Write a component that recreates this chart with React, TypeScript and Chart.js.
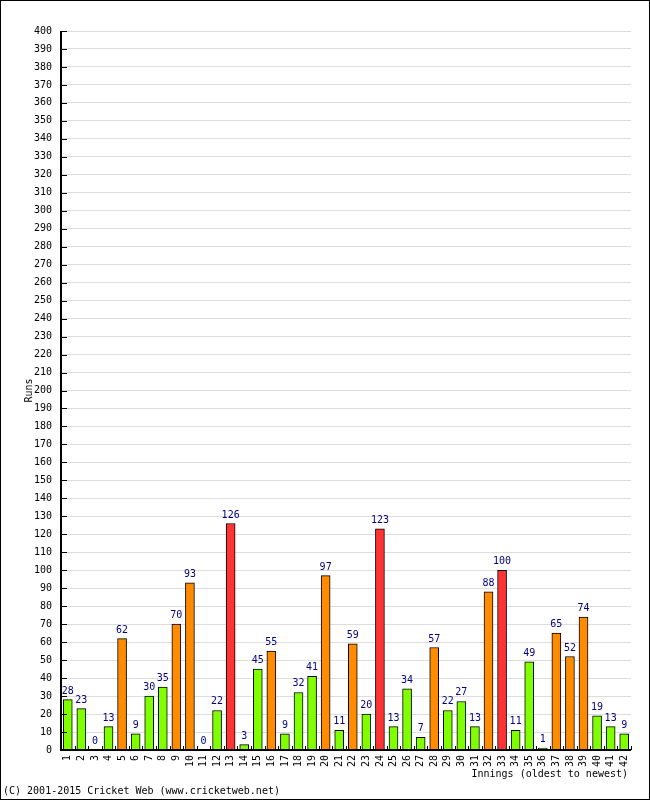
import React, { useEffect, useRef } from "react";
import { Chart, registerables } from "chart.js";

Chart.register(...registerables);

const innings: string[] = Array.from({ length: 42 }, (_, i) => String(i + 1));
const runs: number[] = [28, 23, 0, 13, 62, 9, 30, 35, 70, 93, 0, 22, 126, 3, 45, 55, 9, 32, 41, 97, 11, 59, 20, 123, 13, 34, 7, 57, 22, 27, 13, 88, 100, 11, 49, 1, 65, 52, 74, 19, 13, 9];
const yTitle = "Runs";
const xTitle = "Innings (oldest to newest)";
const footer = "(C) 2001-2015 Cricket Web (www.cricketweb.net)";

const GREEN = "#80ff00";
const ORANGE = "#ff8c00";
const RED = "#ff3333";
const FONT = "10px 'DejaVu Sans Mono', monospace";

function barColor(v: number): string {
  if (v >= 100) return RED;
  if (v >= 50) return ORANGE;
  return GREEN;
}

const decorPlugin = {
  id: "decor",
  afterDatasetsDraw(chart: any) {
    const ctx = chart.ctx as CanvasRenderingContext2D;
    const area = chart.chartArea;
    const xs = chart.scales.x;
    const ys = chart.scales.y;
    ctx.save();
    // value labels
    ctx.font = FONT;
    ctx.fillStyle = "#000080";
    ctx.textAlign = "center";
    ctx.textBaseline = "alphabetic";
    const meta = chart.getDatasetMeta(0);
    meta.data.forEach((el: any, i: number) => {
      ctx.fillText(String(runs[i]), el.x, el.y - 6);
    });
    // axes
    ctx.strokeStyle = "#000";
    ctx.lineWidth = 2;
    ctx.beginPath();
    ctx.moveTo(area.left, area.top);
    ctx.lineTo(area.left, area.bottom);
    ctx.lineTo(area.right, area.bottom);
    ctx.stroke();
    ctx.lineWidth = 1;
    // y inward ticks
    ctx.beginPath();
    ys.ticks.forEach((t: any) => {
      const y = Math.round(ys.getPixelForValue(t.value)) + 0.5;
      ctx.moveTo(area.left, y);
      ctx.lineTo(area.left + 6, y);
    });
    // x inward ticks at category boundaries
    const n = innings.length;
    const w = (area.right - area.left) / n;
    for (let i = 1; i <= n; i++) {
      const x = Math.round(area.left + i * w) + 0.5;
      ctx.moveTo(x, area.bottom);
      ctx.lineTo(x, area.bottom - 4);
    }
    ctx.stroke();
    // titles
    ctx.fillStyle = "#000";
    ctx.font = FONT;
    ctx.textBaseline = "middle";
    ctx.textAlign = "right";
    ctx.fillText(xTitle, 628, 774);
    ctx.textAlign = "left";
    ctx.fillText(footer, 3, 791);
    ctx.translate(29, (area.top + area.bottom) / 2);
    ctx.rotate(-Math.PI / 2);
    ctx.textAlign = "center";
    ctx.fillText(yTitle, 0, 0);
    ctx.restore();
    // border
    ctx.save();
    ctx.strokeStyle = "#000";
    ctx.lineWidth = 1;
    ctx.strokeRect(0.5, 0.5, chart.width - 1, chart.height - 1);
    ctx.restore();
  },
};

export default function App() {
  const ref = useRef<HTMLCanvasElement | null>(null);
  useEffect(() => {
    if (!ref.current) return;
    const chart = new Chart(ref.current, {
      type: "bar",
      data: {
        labels: innings,
        datasets: [
          {
            data: runs,
            backgroundColor: runs.map(barColor),
            borderColor: "#000",
            borderWidth: 1,
            barThickness: 9,
          },
        ],
      },
      options: {
        animation: false,
        responsive: false,
        devicePixelRatio: 1,
        layout: { padding: { top: 31, right: 19, left: 0, bottom: 0 } },
        plugins: { legend: { display: false }, tooltip: { enabled: false } },
        scales: {
          x: {
            grid: { display: false, drawTicks: false },
            border: { display: false },
            afterFit: (s: any) => {
              s.height = 50;
            },
            ticks: {
              autoSkip: false,
              minRotation: 90,
              maxRotation: 90,
              padding: 5,
              color: "#000",
              font: { family: "'DejaVu Sans Mono', monospace", size: 10 },
            },
          },
          y: {
            min: 0,
            max: 400,
            grid: { color: "#dddddd", drawTicks: false },
            border: { display: false },
            afterFit: (s: any) => {
              s.width = 61;
            },
            ticks: {
              stepSize: 10,
              padding: 9,
              color: "#000",
              font: { family: "'DejaVu Sans Mono', monospace", size: 10 },
            },
          },
        },
      },
      plugins: [decorPlugin],
    });
    return () => chart.destroy();
  }, []);
  return (
    <div style={{ position: "absolute", left: 0, top: 0, width: 650, height: 800, background: "#fff" }}>
      <canvas ref={ref} width={650} height={800} style={{ display: "block" }} />
    </div>
  );
}
